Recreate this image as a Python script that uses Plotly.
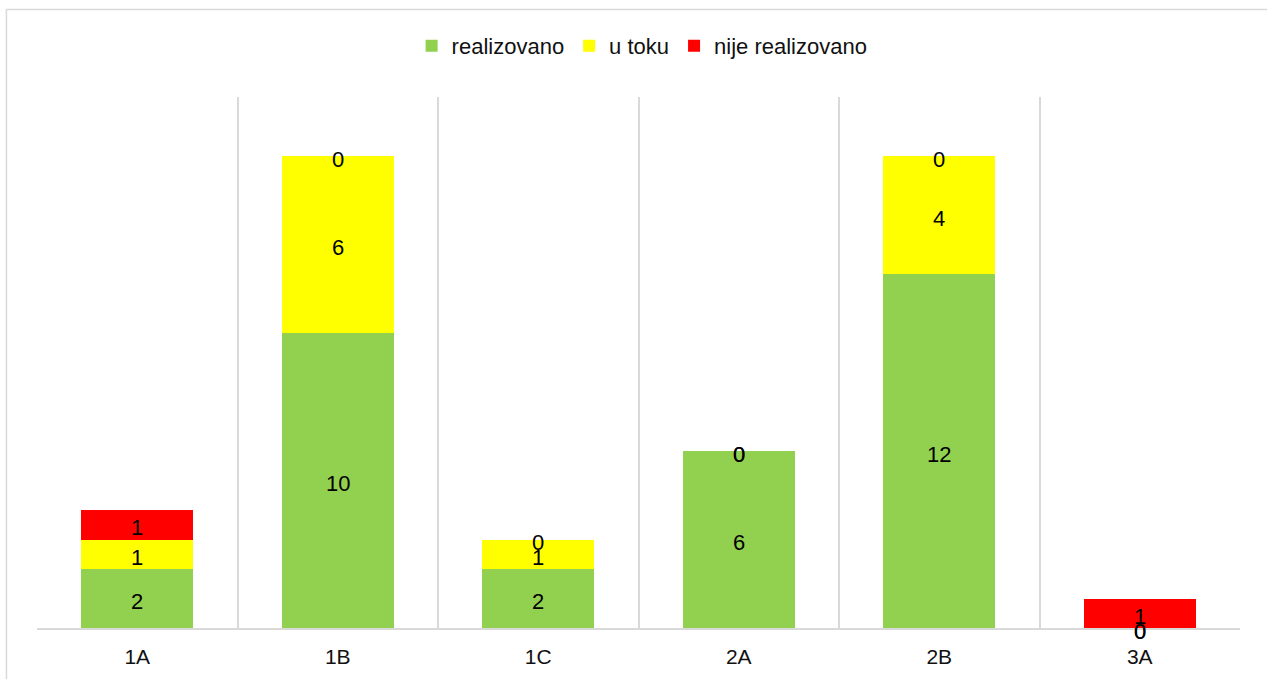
import plotly.graph_objects as go
import numpy as np

categories = ["1A", "1B", "1C", "2A", "2B", "3A"]
realizovano = [2, 10, 2, 6, 12, 0]
u_toku = [1, 6, 1, 0, 4, 0]
nije_realizovano = [1, 0, 0, 0, 0, 1]

series_names = ["realizovano", "u toku", "nije realizovano"]
series_values = [realizovano, u_toku, nije_realizovano]
series_colors = ["#92D050", "#FFFF00", "#FF0000"]

FONT = "Liberation Sans, Arial, sans-serif"

fig = go.Figure()
for name, vals, col in zip(series_names, series_values, series_colors):
    fig.add_trace(go.Bar(
        x=categories, y=vals, name=name,
        marker=dict(color=col, line=dict(width=0)),
        hoverinfo="skip",
    ))

# data labels at segment centres (zero segments sit at stack top)
annotations = []
base = np.zeros(len(categories))
for vals in series_values:
    v = np.array(vals, dtype=float)
    mid = base + v / 2
    for cat, m, val in zip(categories, mid, v):
        annotations.append(dict(
            x=cat, y=m, xref="x", yref="y", text=str(int(val)),
            showarrow=False, xanchor="center", yanchor="middle", yshift=-3,
            font=dict(family=FONT, size=22, color="#000000"),
        ))
    base = base + v

fig.update_layout(
    barmode="stack",
    bargap=0.44,
    width=1267, height=679,
    margin=dict(l=37, r=27, t=97, b=51),
    paper_bgcolor="white", plot_bgcolor="white",
    font=dict(family=FONT, size=20, color="#111111"),
    showlegend=True,
    legend=dict(
        orientation="h", x=0.503, xanchor="center", y=1.096, yanchor="middle",
        font=dict(family=FONT, size=22, color="#111111"),
        itemwidth=30, tracegroupgap=0, traceorder="normal",
    ),
    xaxis=dict(
        type="category", tickson="boundaries", ticks="",
        showgrid=True, gridcolor="#D9D9D9", gridwidth=1.5,
        showline=True, linecolor="#D9D9D9", linewidth=1.5,
        tickfont=dict(family=FONT, size=21, color="#111111"),
        ticklabelstandoff=9,
        fixedrange=True,
    ),
    yaxis=dict(
        range=[0, 18], showgrid=False, showticklabels=False,
        zeroline=False, showline=False, ticks="", fixedrange=True,
    ),
    annotations=annotations,
    shapes=[dict(
        type="rect", xref="paper", yref="paper",
        x0=-0.0254, x1=1.2, y0=-0.3, y1=1.1648,
        line=dict(color="#D9D9D9", width=1.5), fillcolor="rgba(0,0,0,0)",
        layer="below",
    )],
    hovermode=False,
)

fig.write_html(
    "out.html",
    config={"displayModeBar": False, "staticPlot": False},
    post_script="document.body.style.margin='0';",
)
